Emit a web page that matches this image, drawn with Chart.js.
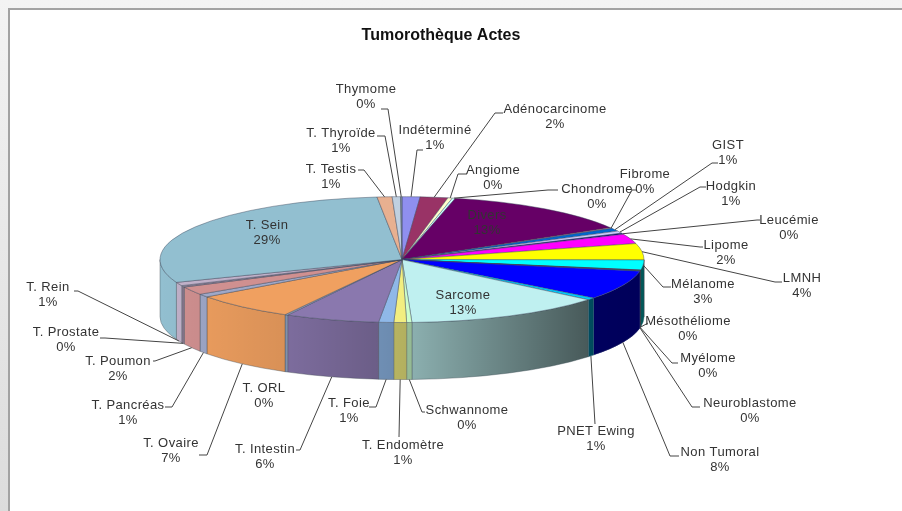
<!DOCTYPE html>
<html>
<head>
<meta charset="utf-8">
<title>Tumorothèque Actes</title>
<script src="https://cdn.jsdelivr.net/npm/chart.js@4"></script>
<style>
  html, body { margin: 0; padding: 0; height: 100%; background: linear-gradient(#f3f3f3, #dcdcdc); overflow: hidden; }
  #frame { position: absolute; left: 8px; top: 8px; width: 894px; height: 503px; background: #fff;
           border-left: 2px solid #a2a2a2; border-top: 2px solid #a2a2a2; box-sizing: border-box; }
  #tumorChart { position: absolute; left: 0; top: 0; filter: blur(0.5px); }
</style>
</head>
<body>
<div id="frame"></div>
<canvas id="tumorChart" width="882" height="511"></canvas>
<script>
/* =========================
   DATA
========================= */

const chartTitle = "Tumorothèque Actes";

const categories = [
  "Indéterminé", "Adénocarcinome", "Angiome", "Chondrome", "Divers", "Fibrome", "GIST", "Hodgkin",
  "Leucémie", "Lipome", "LMNH", "Mélanome", "Mésothéliome", "Myélome", "Neuroblastome", "Non Tumoral",
  "PNET Ewing", "Sarcome", "Schwannome", "T. Endomètre", "T. Foie", "T. Intestin", "T. ORL", "T. Ovaire",
  "T. Pancréas", "T. Poumon", "T. Prostate", "T. Rein", "T. Sein", "T. Testis", "T. Thyroïde", "Thymome"
];

const shares = [
  1.2, 1.85, 0.3, 0.2, 13, 0.2, 0.8, 0.6,
  0.3, 2.49, 4.2, 2.55, 0.1, 0.1, 0.1, 7.55,
  0.55, 13.35, 0.35, 0.85, 1.0, 6.3, 0.2, 6.9,
  0.8, 2.1, 0.4, 0.9, 29.3, 1.0, 0.55, 0.1
];

const sliceColors = [
  "#8f8fef", "#993366", "#ffffcc", "#ccffff", "#660066", "#ff8080", "#0066cc", "#ccccff",
  "#000080", "#ff00ff", "#ffff00", "#00ffff", "#800080", "#800000", "#008080", "#0000ff",
  "#00ccff", "#bff0f0", "#ccffcc", "#f2ee80", "#8fb8e8", "#8a78ae", "#8fa0c0", "#f0a060",
  "#9fa8c8", "#d09090", "#8a7a90", "#c0b0c8", "#92bfd0", "#e8b090", "#c0d0e0", "#8090a0"
];

/* label layout: text centre x, first line y, elbow x, elbow y, end of the short run x
   (no elbow = no leader, rim = leader starts on the top rim) */
const labelSpots = {
  "Indéterminé": [435, 130, 417, 150, 423],
  "Adénocarcinome": [555, 109, 495, 113, 503],
  "Angiome": [493, 170, 458, 174, 467],
  "Chondrome": [597, 189, 548, 190, 558, "rim"],
  "Divers": [487, 215],
  "Fibrome": [645, 174, 632, 190, 637, "rim"],
  "GIST": [728, 145, 712, 163, 718, "rim"],
  "Hodgkin": [731, 186, 700, 187, 706, "rim"],
  "Leucémie": [789, 220, 757, 220, 760, "rim"],
  "Lipome": [726, 245, 700, 247, 703, "rim"],
  "LMNH": [802, 278, 775, 282, 782, "rim"],
  "Mélanome": [703, 284, 663, 287, 671, "rim"],
  "Mésothéliome": [688, 321, 648, 323, 648],
  "Myélome": [708, 358, 672, 363, 678],
  "Neuroblastome": [750, 403, 692, 407, 700],
  "Non Tumoral": [720, 452, 670, 456, 679],
  "PNET Ewing": [596, 431, 595, 424, 595],
  "Sarcome": [463, 295],
  "Schwannome": [467, 410, 422, 412, 425],
  "T. Endomètre": [403, 445, 399, 437, 399],
  "T. Foie": [349, 403, 376, 407, 369],
  "T. Intestin": [265, 449, 300, 450, 296],
  "T. ORL": [264, 388],
  "T. Ovaire": [171, 443, 207, 455, 199],
  "T. Pancréas": [128, 405, 172, 407, 165],
  "T. Poumon": [118, 361, 155, 361, 153],
  "T. Prostate": [66, 332, 105, 338, 100],
  "T. Rein": [48, 287, 78, 291, 74],
  "T. Sein": [267, 225],
  "T. Testis": [331, 169, 364, 170, 358],
  "T. Thyroïde": [341, 133, 385, 136, 377],
  "Thymome": [366, 89, 388, 109, 381]
};

/* =========================
   3D LOOK
========================= */

const TILT = 0.26;    // top face height / width
const DEPTH = 57;     // wall height in px
const RADIUS = 242;
const TITLE_SHIFT = 39;

// darkening across the front wall, darker to the right
const wallShade = [[0, 0.0], [0.27, 0.1], [0.52, 0.27], [0.89, 0.63], [1, 0.65]];

const pie3d = {
  id: "pie3d",
  afterLayout(chart) {
    // title sits right of the pie centre in the picture
    chart.titleBlock.left += TITLE_SHIFT;
    chart.titleBlock.right += TITLE_SHIFT;
  },
  beforeDatasetsDraw(chart) {
    const ctx = chart.ctx;
    const arcs = chart.getDatasetMeta(0).data;
    const cx = arcs[0].x, cy = arcs[0].y, rx = arcs[0].outerRadius, ry = rx * TILT;

    const shade = ctx.createLinearGradient(cx - rx, 0, cx + rx, 0);
    wallShade.forEach(s => shade.addColorStop(s[0], "rgba(0,0,0," + s[1] + ")"));

    arcs.forEach((arc, i) => {
      const a = Math.max(arc.startAngle, 0);
      const b = Math.min(arc.endAngle, Math.PI);
      if (b <= a) return;
      const wall = new Path2D();
      wall.ellipse(cx, cy, rx, ry, 0, a, b);
      wall.ellipse(cx, cy + DEPTH, rx, ry, 0, b, a, true);
      wall.closePath();
      ctx.fillStyle = sliceColors[i];
      ctx.fill(wall);
      ctx.fillStyle = shade;
      ctx.fill(wall);
      ctx.strokeStyle = "rgba(60,70,80,0.55)";
      ctx.lineWidth = 0.7;
      ctx.stroke(wall);
    });

    ctx.save();
    ctx.translate(cx, cy);
    ctx.scale(1, TILT);
    ctx.translate(-cx, -cy);
  },
  afterDatasetsDraw(chart) {
    const ctx = chart.ctx;
    ctx.restore();

    const arcs = chart.getDatasetMeta(0).data;
    const total = shares.reduce((sum, v) => sum + v, 0);
    ctx.save();
    ctx.textAlign = "center";
    ctx.textBaseline = "middle";
    ctx.letterSpacing = "0.4px";

    arcs.forEach((arc, i) => {
      const name = categories[i];
      const spot = labelSpots[name];
      const mid = (arc.startAngle + arc.endAngle) / 2;

      if (spot.length > 2) {
        const onWall = spot[5] !== "rim" && Math.sin(mid) > 0;
        const px = arc.x + Math.cos(mid) * arc.outerRadius;
        const py = arc.y + Math.sin(mid) * arc.outerRadius * TILT + (onWall ? DEPTH : 0);
        ctx.beginPath();
        ctx.moveTo(px, py);
        ctx.lineTo(spot[2], spot[3]);
        ctx.lineTo(spot[4], spot[3]);
        ctx.strokeStyle = "#444";
        ctx.lineWidth = 1;
        ctx.stroke();
      }

      ctx.fillStyle = "#333";
      ctx.font = "13px 'Liberation Sans', Arial, sans-serif";
      ctx.fillText(name, spot[0], spot[1]);
      ctx.fillText(Math.round(shares[i] / total * 100) + "%", spot[0], spot[1] + 15.5);
    });
    ctx.restore();
  }
};

/* =========================
   CHART
========================= */

new Chart(document.getElementById("tumorChart"), {
  type: "pie",
  data: {
    labels: categories,
    datasets: [
      {
        data: shares,
        backgroundColor: sliceColors,
        borderColor: "rgba(60,70,90,0.7)",
        borderWidth: 1,
        clip: false
      }
    ]
  },
  options: {
    responsive: false,
    animation: false,
    radius: RADIUS,
    layout: { padding: { left: 0, right: 78, top: 0, bottom: 42 } },
    plugins: {
      legend: { display: false },
      tooltip: { enabled: false },
      title: {
        display: true,
        text: chartTitle,
        color: "#111",
        font: { family: "'Liberation Sans', Arial, sans-serif", size: 16, weight: "bold" },
        padding: { top: 26, bottom: 5 }
      }
    }
  },
  plugins: [pie3d]
});
</script>
</body>
</html>
